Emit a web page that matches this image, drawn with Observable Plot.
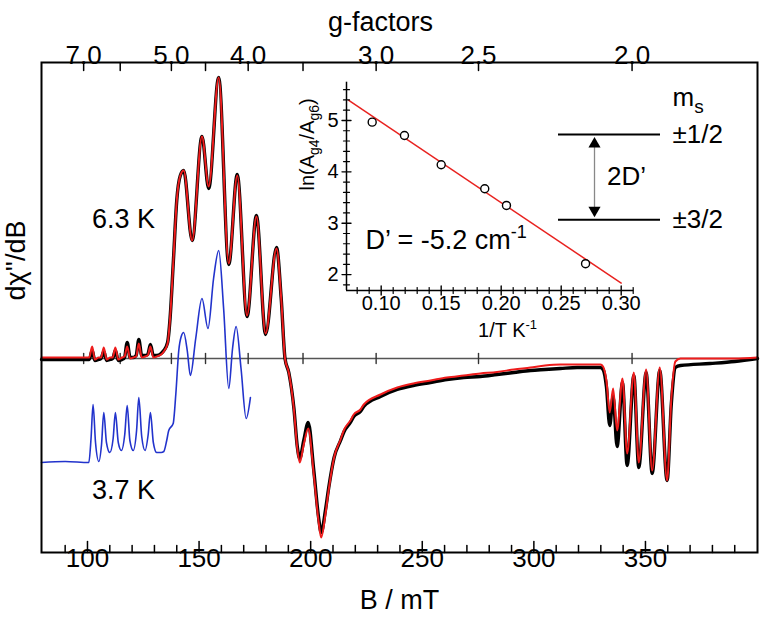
<!DOCTYPE html>
<html><head><meta charset="utf-8">
<script src="https://cdn.jsdelivr.net/npm/d3@7"></script>
<script src="https://cdn.jsdelivr.net/npm/@observablehq/plot@0.6"></script>
<style>
body{margin:0;background:#fff;}
#wrap{position:relative;width:761px;height:618px;overflow:hidden;background:#fff;}
#wrap svg{position:absolute;overflow:visible;}
</style></head><body><div id="wrap"></div>
<script>
// ---------- data ----------
const gTimesB = 688;                       // g·B (mT) at the spectrometer frequency
const gTicks = [7, 6, 5, 4.5, 4, 3.5, 3, 2.5, 2];
const gLabels = [7.0, 5.0, 4.0, 3.0, 2.5, 2.0];
const bMajor = [100, 150, 200, 250, 300, 350];
const bMinor = [90,110,120,130,140,160,170,180,190,210,220,230,240,260,270,280,290,310,320,330,340,360,370,380,390];

// 6.3 K experimental spectrum [B (mT), dχ''/dB (arb.)]
const exp63 = [
[79.4,-1],[90,-1],[100.8,-1],[102.1,8],[103.3,-2],[105,-1],[106.1,0],[107.3,7],[108.6,-2],[110.2,-1],[111.3,0],[112.5,8],[113.8,-2],[115.5,-1],[116.6,1],[117.8,16],[119.1,1],[120.5,1],[121.8,3],[123,19],[124.3,3],[125.8,3],[127,4],[128.2,14],[129.5,3],[131,3],[133,5],[134.2,8],[135.9,16],[137,40],[138.5,98],[140,158],[141.6,183],[143.1,188],[146.9,118],[151.3,222],[154.3,170],[158.8,281],[163.3,94],[167.1,184],[171.5,42],[175.7,143],[179.8,24],[184.7,111],[186.8,60],[188.5,0],[190.2,-14],[192.5,-50],[194,-88],[195.1,-100],[196.9,-82],[198.9,-64],[201.4,-112],[203.6,-160],[204.7,-174],[206.6,-152],[208.1,-129],[210.5,-99],[213.4,-82],[215,-73],[217.8,-64],[219.3,-58],[222.3,-53],[223.8,-48],[231.3,-38],[238.8,-31],[246,-27],[253.7,-24],[261,-21],[268.6,-19],[276,-18],[283.5,-16],[291,-14],[298.5,-12],[305,-11],[311.9,-10],[319.4,-9],[325,-9],[329.8,-9],[331,-11],[332.5,-28],[334,-67],[335.5,-38],[337.3,-88],[339.7,-24],[341.8,-107],[344.8,-17],[347,-109],[350.3,-14],[353,-115],[356.4,-12],[359.7,-122],[361.6,-45],[363.4,-9],[365.7,-7],[379,-5],[390,-3],[400.2,0]
];
// 6.3 K simulation
const sim63 = [
[79.4,1],[90,1],[100.8,1],[102.1,12],[103.3,-1],[105,1],[106.1,1],[107.3,11],[108.6,-1],[110.2,1],[111.3,1],[112.5,11],[113.8,-1],[115.5,1],[116.6,2],[117.8,12],[119.1,0],[120.5,1],[121.8,2],[123,15],[124.3,1],[125.8,2],[127,3],[128.2,12],[129.5,1],[131,2],[133,4],[134.2,7],[135.9,15],[137,40],[138.5,98],[140,158],[141.6,183],[143.1,188],[146.9,118],[151.3,222],[154.3,172],[158.8,281],[163.3,95],[167.1,183],[171.5,43],[175.7,142],[179.8,25],[184.7,110],[186.8,60],[188.5,0],[190.2,-14],[192.5,-51],[194,-90],[195.1,-104],[196.9,-86],[198.9,-70],[201.4,-116],[203.6,-164],[204.7,-179],[206.6,-156],[208.1,-131],[210.5,-99],[213.4,-81],[215,-71],[217.8,-62],[219.3,-56],[222.3,-51],[223.8,-46],[231.3,-36],[238.8,-29],[246,-25],[253.7,-22],[261,-19],[268.6,-17],[276,-15],[283.5,-13.5],[291,-11],[298.5,-9],[305,-7],[311.9,-6],[319.4,-6],[325,-6],[329.8,-6],[331,-8],[332.5,-22],[334,-54],[335.5,-30],[337.3,-72],[339.7,-20],[341.8,-95],[344.8,-14],[347,-104],[350.3,-11],[353,-112],[356.4,-9],[359.7,-122],[361.6,-40],[363.4,-3],[365.7,0],[379,0],[390,0],[400.2,1]
];
// 3.7 K experimental spectrum (offset)
const exp37 = [
[79.4,-104],[90,-103],[100.6,-104],[101.6,-80],[102.5,-46],[103.6,-84],[105.1,-103],[106.3,-86],[107.3,-54],[108.5,-84],[110,-94],[111.5,-80],[112.5,-54],[113.8,-84],[115.2,-92],[116.7,-76],[117.8,-47],[119,-82],[120.5,-92],[122,-72],[123,-39],[124.3,-78],[125.8,-92],[127.2,-76],[128.2,-54],[129.5,-84],[131,-94],[133,-94],[134.2,-93],[135.5,-82],[136.4,-72],[138.4,-65],[139.6,-35],[140.9,8],[142,22],[143.1,26],[144.7,8],[146.1,-17],[148.5,20],[151.3,60],[154,30],[156.5,80],[158.8,108],[161,50],[163.3,-30],[165,10],[166.6,32],[168.8,-10],[171.1,-60],[173,-39]
];

// inset: ln(Ag4/Ag6) vs 1/T
const invT = [0.0925, 0.1194, 0.150, 0.1863, 0.2044, 0.2703];
const lnRatio = [4.967, 4.708, 4.138, 3.671, 3.346, 2.212];
const fitInvT = [0.073, 0.300];
const fitLn = [5.389, 1.835];
const tMajor = [0.10, 0.15, 0.20, 0.25, 0.30];
const tMinor = [0.08,0.09,0.11,0.12,0.13,0.14,0.16,0.17,0.18,0.19,0.21,0.22,0.23,0.24,0.26,0.27,0.28,0.29,0.31];
const lnMajor = [2, 3, 4, 5];
const lnMinor = [1.8,2.2,2.4,2.6,2.8,3.2,3.4,3.6,3.8,4.2,4.4,4.6,4.8,5.2,5.4,5.6];

// energy levels
const levels = [{ms: "±1/2", E: 2}, {ms: "±3/2", E: 0}];

// ---------- drawing ----------
const FONT = "'Liberation Sans', Arial, Helvetica, sans-serif";
const up = {draw(c, l) { c.moveTo(0, 0); c.lineTo(0, -l); }};
const down = {draw(c, l) { c.moveTo(0, 0); c.lineTo(0, l); }};
const bx = d => d[0], by = d => d[1];

const main = Plot.plot({
  width: 761, height: 618,
  marginLeft: 41, marginRight: 4, marginTop: 62, marginBottom: 66,
  x: {domain: [79.4, 400.2], axis: null},
  y: {domain: [-194, 296], axis: null},
  style: {fontFamily: FONT, background: "white", color: "black"},
  marks: [
    Plot.ruleY([0], {stroke: "#555", strokeWidth: 1.4}),
    Plot.vector(gTicks, {x: g => gTimesB / g, y: 0, length: 10, anchor: "middle", shape: up, stroke: "#333", strokeWidth: 1.4}),
    Plot.line(exp37, {x: bx, y: by, curve: "monotone-x", stroke: "#2233cc", strokeWidth: 1.6}),
    Plot.line(exp63, {x: bx, y: by, curve: "monotone-x", stroke: "black", strokeWidth: 3.4}),
    Plot.line(sim63, {x: bx, y: by, curve: "monotone-x", stroke: "#ee1c1c", strokeWidth: 2}),
    Plot.frame({stroke: "black", strokeWidth: 2}),
    Plot.vector(bMinor, {x: d => d, frameAnchor: "bottom", length: 7, anchor: "start", shape: up, stroke: "black", strokeWidth: 1.5}),
    Plot.vector(bMajor, {x: d => d, frameAnchor: "bottom", length: 11, anchor: "start", shape: up, stroke: "black", strokeWidth: 1.5}),
    Plot.vector(gTicks, {x: g => gTimesB / g, frameAnchor: "top", length: 8, anchor: "start", shape: down, stroke: "black", strokeWidth: 1.5}),
    Plot.text(bMajor, {x: d => d, text: d => String(d), frameAnchor: "bottom", dy: 14.7, fontSize: 26}),
    Plot.text(gLabels, {x: g => gTimesB / g, text: g => g.toFixed(1), frameAnchor: "top", dy: -17.3, fontSize: 26}),
    Plot.text(["g-factors"], {text: d => d, frameAnchor: "top", dx: -19, dy: -50.6, fontSize: 27}),
    Plot.text(["B / mT"], {text: d => d, frameAnchor: "bottom", dy: 56.4, fontSize: 27}),
    Plot.text(["dχ''/dB"], {text: d => d, frameAnchor: "left", y: 58, dx: -25, rotate: -90, fontSize: 27}),
    Plot.text(["6.3 K"], {text: d => d, x: 116.1, y: 139.6, fontSize: 27}),
    Plot.text(["3.7 K"], {text: d => d, x: 116.1, y: -131.4, fontSize: 27})
  ]
});

const pts = invT.map((t, i) => ({t, ln: lnRatio[i]}));
const fit = fitInvT.map((t, i) => ({t, ln: fitLn[i]}));
const tMin = 0.0711, lnMin = 1.69;
const inset = Plot.plot({
  width: 370, height: 280, marginLeft: 56, marginRight: 26.7, marginTop: 11.7, marginBottom: 60,
  x: {domain: [tMin, 0.3105], axis: null},
  y: {domain: [lnMin, 5.745], axis: null},
  style: {fontFamily: FONT, background: "transparent", color: "black", overflow: "visible"},
  marks: [
    Plot.line(fit, {x: "t", y: "ln", stroke: "#e8221f", strokeWidth: 1.5}),
    Plot.dot(pts, {x: "t", y: "ln", r: 4, stroke: "black", fill: "white", strokeWidth: 1.4}),
    Plot.ruleX([tMin], {stroke: "black", strokeWidth: 1.5}),
    Plot.ruleY([lnMin], {stroke: "black", strokeWidth: 1.5}),
    Plot.vector(tMinor, {x: d => d, frameAnchor: "bottom", length: 6, anchor: "middle", shape: up, stroke: "black", strokeWidth: 1.2}),
    Plot.vector(tMajor, {x: d => d, frameAnchor: "bottom", length: 9, anchor: "middle", shape: up, stroke: "black", strokeWidth: 1.4}),
    Plot.vector(lnMinor, {y: d => d, frameAnchor: "left", length: 6, anchor: "middle", rotate: 90, shape: up, stroke: "black", strokeWidth: 1.2}),
    Plot.vector(lnMajor, {y: d => d, frameAnchor: "left", length: 9, anchor: "middle", rotate: 90, shape: up, stroke: "black", strokeWidth: 1.4}),
    Plot.text(tMajor, {x: d => d, text: d => d.toFixed(2), frameAnchor: "bottom", dy: 19.6, fontSize: 20}),
    Plot.text(lnMajor, {y: d => d, text: d => String(d), frameAnchor: "left", dx: -8, textAnchor: "end", fontSize: 20}),
    Plot.text(["1/T K-1"], {text: d => d, x: 0.2053, frameAnchor: "bottom", dy: 46.6, fontSize: 20}),
    Plot.text(["ln(Ag4/Ag6)"], {text: d => d, y: 3.636, frameAnchor: "left", dx: -39, rotate: -90, fontSize: 20}),
    Plot.text(["D’ = -5.2 cm-1"], {text: d => d, x: 0.0869, y: 2.674, textAnchor: "start", fontSize: 27})
  ]
});

const arrowX = 0.353;
const diagram = Plot.plot({
  width: 211, height: 170, marginLeft: 8, marginRight: 101, marginTop: 54, marginBottom: 30.7,
  x: {domain: [0, 1], axis: null},
  y: {domain: [0, 2], axis: null},
  style: {fontFamily: FONT, background: "transparent", color: "black", overflow: "visible"},
  marks: [
    Plot.ruleY(levels, {y: "E", x1: 0, x2: 1, stroke: "black", strokeWidth: 2}),
    Plot.arrow([0], {x1: arrowX, x2: arrowX, y1: 0, y2: 2, headLength: 0, insetStart: 10, insetEnd: 10, stroke: "#888", strokeWidth: 1.3}),
    Plot.dot([levels[0]], {x: arrowX, y: "E", symbol: "triangle", r: 4.5, fill: "black", stroke: "none", dy: 9.6}),
    Plot.dot([levels[1]], {x: arrowX, y: "E", symbol: "triangle", r: 4.5, fill: "black", stroke: "none", rotate: 180, dy: -9.5}),
    Plot.text(levels, {x: 1, y: "E", text: "ms", textAnchor: "start", dx: 12, fontSize: 26}),
    Plot.text(["ms"], {text: d => d, x: 1, y: 2, textAnchor: "start", dx: 12, dy: -37, fontSize: 26}),
    Plot.text(["2D’"], {text: d => d, x: 0.667, y: 1, fontSize: 26})
  ]
});

const wrap = document.getElementById("wrap");
[main, inset, diagram].forEach(s => wrap.appendChild(s));
main.style.left = "0px"; main.style.top = "0px";
inset.style.left = "290px"; inset.style.top = "70px";
diagram.style.left = "550px"; diagram.style.top = "80px";

function rich(svg, plain, html) {
  svg.querySelectorAll("text").forEach(t => { if (t.textContent === plain) t.innerHTML = html; });
}
rich(inset, "ln(Ag4/Ag6)", 'ln(A<tspan font-size="14" dy="5">g4</tspan><tspan dy="-5">/A</tspan><tspan font-size="14" dy="5">g6</tspan><tspan dy="-5">)</tspan>');
rich(inset, "1/T K-1", '1/T K<tspan font-size="13" dy="-8">-1</tspan>');
rich(inset, "D’ = -5.2 cm-1", 'D’ = -5.2 cm<tspan font-size="18" dy="-11">-1</tspan>');
rich(diagram, "ms", 'm<tspan font-size="19" dy="7">s</tspan>');
</script></body></html>
